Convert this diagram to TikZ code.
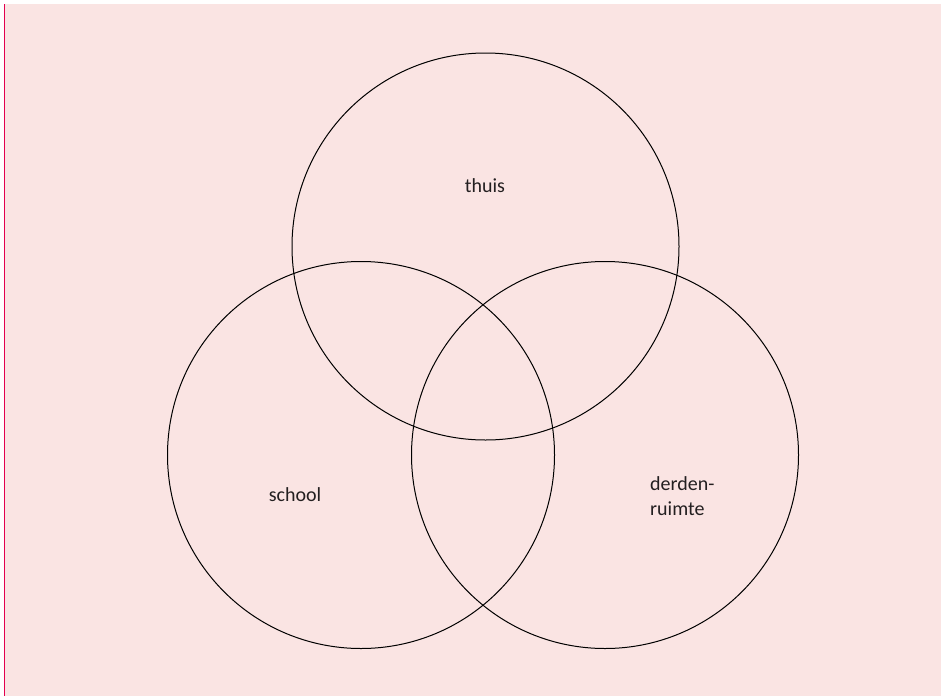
\documentclass[tikz,border=0pt]{standalone}
\usepackage{fontspec}
\setmainfont{Carlito}
\usetikzlibrary{positioning}
\definecolor{vennpink}{HTML}{FAE4E3}
\definecolor{vennred}{HTML}{E3004F}
\definecolor{venntext}{HTML}{231F20}

\begin{document}
\begin{tikzpicture}[x=1pt,y=-1pt,
    ring/.style={draw=black,line width=1pt,circle,minimum size=387pt,inner sep=0pt},
    lbl/.style={font=\fontsize{20}{25}\selectfont,text=venntext,inner sep=0pt}]
        \useasboundingbox (0,0) rectangle (941,696);
        \fill[white] (0,0) rectangle (941,696);
        \fill[vennpink] (5,4) rectangle (941,696);
        \draw[vennred,line width=1.6pt] (4.5,4)--(4.5,696);
        % de drie cirkels
        \node[ring] (thuiscirkel) at (485.5,246.5) {};
        \node[ring] (schoolcirkel) at (361,455) {};
        \node[ring] (derdencirkel) at (605,455) {};
        % labels
        \node[lbl] (thuis) at (485,186) {thuis};
        \node[lbl] (school) at (295,495) {school};
        \node[lbl,align=left,anchor=west] (derden) at (650,496) {derden-\\ruimte};
      \end{tikzpicture}
\end{document}
